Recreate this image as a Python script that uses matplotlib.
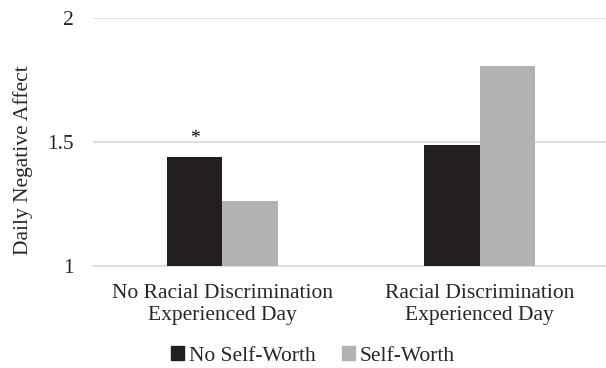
import numpy as np
import matplotlib
matplotlib.use('Agg')
import matplotlib.pyplot as plt
from matplotlib.patches import Patch

plt.rcParams['font.family'] = ['Liberation Serif', 'DejaVu Serif']

categories = ['No Racial Discrimination\nExperienced Day', 'Racial Discrimination\nExperienced Day']
no_self_worth = [1.44, 1.488]
self_worth = [1.262, 1.806]
series_names = ['No Self-Worth', 'Self-Worth']
yticks = [1, 1.5, 2]
black = '#231f20'
gray = '#b1b2b4'

fig = plt.figure(figsize=(6.06, 3.68), dpi=100)
ax = fig.add_axes([93/606, 1 - 266/368, 1 - 93/606, (266 - 18)/368])

x = np.arange(len(categories))
w = 0.2155
ax.bar(x - w/2, no_self_worth, w, bottom=0, color=black, zorder=3)
ax.bar(x + w/2, self_worth, w, bottom=0, color=gray, zorder=3)

# significance marker
ax.text(x[0] - w/2, no_self_worth[0] + 0.075, '*', ha='center', va='center', fontsize=14)

fs = 15.5
ax.set_ylim(1, 2)
ax.set_xlim(-0.503, 1.49)
ax.set_yticks(yticks)
ax.set_yticklabels(['1', '1.5', '2'], fontsize=fs, color='#262626')
ax.set_xticks(x)
ax.set_xticklabels(categories, fontsize=fs, color='#262626', linespacing=1.2)
ax.tick_params(axis='y', length=0, pad=14)
ax.tick_params(axis='x', length=0, pad=13)
ax.yaxis.grid(True, color='#d9d9d9', lw=1.2, zorder=0)
for s in ['top', 'right', 'left']:
    ax.spines[s].set_visible(False)
ax.spines['bottom'].set_color('#d9d9d9')
ax.spines['bottom'].set_linewidth(1.2)
ax.set_ylabel('Daily Negative Affect', fontsize=fs, color='#262626')
ax.yaxis.set_label_coords(-0.117, 0.427)

handles = [Patch(color=black), Patch(color=gray)]
fig.legend(handles, series_names, loc='center', bbox_to_anchor=(313/606, 1 - 356/368),
           ncol=2, frameon=False, fontsize=fs, handlelength=0.6, handleheight=0.6,
           handletextpad=0.25, columnspacing=1.2, labelcolor='#262626')

fig.savefig('out.png', dpi=100)
